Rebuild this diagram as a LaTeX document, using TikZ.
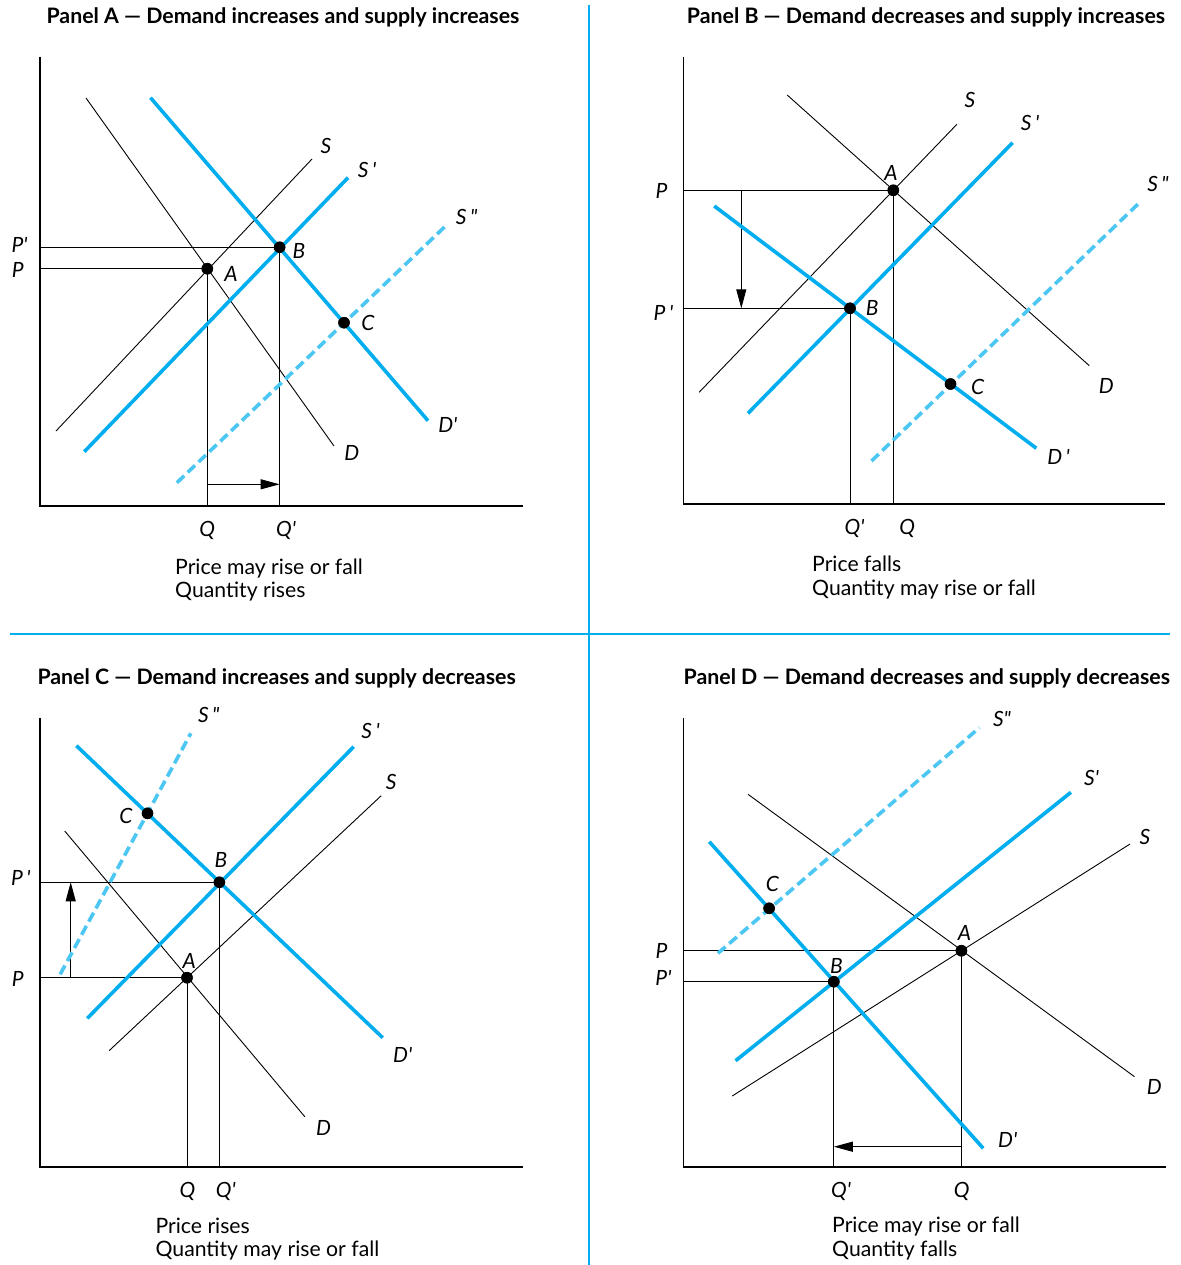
\documentclass[tikz,border=0pt]{standalone}
\usepackage{fontspec}
\setmainfont{Lato}
\usetikzlibrary{arrows.meta}
\definecolor{cblue}{HTML}{00AEEF}
\definecolor{clight}{HTML}{4CC6F2}
\begin{document}
\begin{tikzpicture}[x=1pt,y=-1pt,
  axisl/.style={black,line width=1.3pt},
  thinl/.style={black,line width=0.9pt},
  guide/.style={black,line width=1pt},
  bluel/.style={cblue,line width=3.6pt},
  dashl/.style={clight,line width=3.6pt,dash pattern=on 10pt off 5pt},
  divider/.style={cblue,line width=2pt},
  shiftarrow/.style={black,line width=1pt,-{Triangle[length=19pt,width=10pt]}},
  dot/.style={circle,fill=black,inner sep=0pt,minimum size=11.5pt},
  lab/.style={font=\itshape\fontsize{21}{21}\selectfont,inner sep=0pt},
  ttl/.style={font=\bfseries\fontsize{21.3}{21.3}\selectfont,inner sep=0pt,anchor=base},
  capt/.style={font=\fontsize{21.2}{21.2}\selectfont,inner sep=0pt,anchor=base west}
]
\useasboundingbox (0,0) rectangle (1180,1265);
\fill[white] (0,0) rectangle (1180,1265);

% dividers
\coordinate (v1) at (589,5); \coordinate (v2) at (589,1265);
\coordinate (h1) at (10,634); \coordinate (h2) at (1170,634);
\draw[divider] (v1) -- (v2);
\draw[divider] (h1) -- (h2);

% ================= Panel A =================
\node[ttl] (tA) at (283,24) {Panel A — Demand increases and supply increases};
\coordinate (aY) at (40,57); \coordinate (aO) at (40,506); \coordinate (aX) at (523,506);
\draw[axisl] (aY) -- (aO) -- (aX);
\coordinate (aD1) at (86,98);    \coordinate (aD2) at (334,446);
\coordinate (aS1) at (56,431);   \coordinate (aS2) at (312,159);
\coordinate (aDp1) at (150.5,97.7); \coordinate (aDp2) at (428,420.7);
\coordinate (aSp1) at (84.3,451.7); \coordinate (aSp2) at (348,177.7);
\coordinate (aSq1) at (176.9,482.7); \coordinate (aSq2) at (446.6,225);
\coordinate (aPA) at (40,268.7); \coordinate (aPB) at (40,247.3);
\coordinate (aQA) at (207.3,506); \coordinate (aQB) at (279.6,506);
\coordinate (aR1) at (207.3,484.3); \coordinate (aR2) at (279.6,484.3);
\draw[thinl] (aD1) -- (aD2);
\draw[thinl] (aS1) -- (aS2);
\node[dot] (aA) at (207.3,268.7) {};
\node[dot] (aB) at (279.6,247.3) {};
\node[dot] (aC) at (344,322.7) {};
\draw[guide] (aPA) -- (aA.center) -- (aQA);
\draw[guide] (aPB) -- (aB.center) -- (aQB);
\draw[shiftarrow] (aR1) -- (aR2);
\draw[bluel] (aDp1) -- (aDp2);
\draw[bluel] (aSp1) -- (aSp2);
\draw[dashl] (aSq1) -- (aSq2);
\node[dot] at (aA) {};
\node[dot] at (aB) {};
\node[dot] at (aC) {};
\node[lab] (aLS) at (326,145.7) {S};
\node[lab] (aLSp) at (367,170) {S\,\textquotesingle};
\node[lab] (aLSq) at (466.6,216.7) {S\,\textquotedbl};
\node[lab] (aLPp) at (19.6,245) {P\textquotesingle};
\node[lab] (aLP) at (17.7,270) {P};
\node[lab] (aLA) at (231,274) {A};
\node[lab] (aLB) at (299,250.7) {B};
\node[lab] (aLC) at (368,322.7) {C};
\node[lab] (aLDp) at (447.8,425) {D\textquotesingle};
\node[lab] (aLD) at (351.8,453) {D};
\node[lab] (aLQ) at (207.3,530) {Q};
\node[lab] (aLQp) at (286,530) {Q\textquotesingle};
\node[capt] (aC1) at (175,574) {Price may rise or fall};
\node[capt] (aC2) at (175,597) {Quantity rises};

% ================= Panel B =================
\node[ttl] (tB) at (926,24) {Panel B — Demand decreases and supply increases};
\coordinate (bY) at (683.3,57); \coordinate (bO) at (683.3,504); \coordinate (bX) at (1164.6,504);
\draw[axisl] (bY) -- (bO) -- (bX);
\coordinate (bD1) at (787.2,95);    \coordinate (bD2) at (1089.3,365.7);
\coordinate (bS1) at (699.1,392.3); \coordinate (bS2) at (956.9,124.3);
\coordinate (bSp1) at (748,413.3);  \coordinate (bSp2) at (1012.6,142.7);
\coordinate (bDp1) at (714.2,206);  \coordinate (bDp2) at (1036.3,448.3);
\coordinate (bSq1) at (871.5,461);  \coordinate (bSq2) at (1140.1,202);
\coordinate (bPA) at (683.3,190.3); \coordinate (bPB) at (683.3,308.3);
\coordinate (bQA) at (893.3,504);   \coordinate (bQB) at (850,504);
\coordinate (bR1) at (741.3,190.3); \coordinate (bR2) at (741.3,308.3);
\draw[thinl] (bD1) -- (bD2);
\draw[thinl] (bS1) -- (bS2);
\node[dot] (bA) at (893.3,190.3) {};
\node[dot] (bB) at (850,308.3) {};
\node[dot] (bC) at (950.5,384) {};
\draw[guide] (bPA) -- (bA.center) -- (bQA);
\draw[guide] (bPB) -- (bB.center) -- (bQB);
\draw[shiftarrow] (bR1) -- (bR2);
\draw[bluel] (bSp1) -- (bSp2);
\draw[bluel] (bDp1) -- (bDp2);
\draw[dashl] (bSq1) -- (bSq2);
\node[dot] at (bA) {};
\node[dot] at (bB) {};
\node[dot] at (bC) {};
\node[lab] (bLS) at (970,100) {S};
\node[lab] (bLSp) at (1030,122.7) {S\,\textquotesingle};
\node[lab] (bLSq) at (1158,184) {S\,\textquotedbl};
\node[lab] (bLA) at (891,173) {A};
\node[lab] (bLP) at (661.5,190.7) {P};
\node[lab] (bLPp) at (663.4,312.7) {P\,\textquotesingle};
\node[lab] (bLB) at (872.2,308.3) {B};
\node[lab] (bLC) at (977.6,387) {C};
\node[lab] (bLD) at (1106.3,386) {D};
\node[lab] (bLDp) at (1058.5,457.3) {D\,\textquotesingle};
\node[lab] (bLQp) at (854.5,528.3) {Q\textquotesingle};
\node[lab] (bLQ) at (907.2,528.3) {Q};
\node[capt] (bC1) at (812,571) {Price falls};
\node[capt] (bC2) at (812,595) {Quantity may rise or fall};

% ================= Panel C =================
\node[ttl] (tC) at (276.6,684) {Panel C — Demand increases and supply decreases};
\coordinate (cY) at (40,718.3); \coordinate (cO) at (40,1167); \coordinate (cX) at (523,1167);
\draw[axisl] (cY) -- (cO) -- (cX);
\coordinate (cD1) at (64.7,831);    \coordinate (cD2) at (304.8,1116.7);
\coordinate (cS1) at (109.1,1050.7); \coordinate (cS2) at (381.2,795.7);
\coordinate (cSp1) at (87.3,1018.3); \coordinate (cSp2) at (353.7,746.7);
\coordinate (cDp1) at (76.4,745.7);  \coordinate (cDp2) at (382.7,1037.7);
\coordinate (cSq1) at (60.2,974.3);  \coordinate (cSq2) at (190.8,733.3);
\coordinate (cPA) at (40,977.7); \coordinate (cPB) at (40,882.3);
\coordinate (cQA) at (187,1167); \coordinate (cQB) at (219.4,1167);
\coordinate (cR1) at (70.7,977.7); \coordinate (cR2) at (70.7,882.3);
\draw[thinl] (cD1) -- (cD2);
\draw[thinl] (cS1) -- (cS2);
\node[dot] (cA) at (187,977.7) {};
\node[dot] (cB) at (219.4,882.3) {};
\node[dot] (cC) at (147.5,813.3) {};
\draw[guide] (cPA) -- (cA.center) -- (cQA);
\draw[guide] (cPB) -- (cB.center) -- (cQB);
\draw[shiftarrow] (cR1) -- (cR2);
\draw[bluel] (cSp1) -- (cSp2);
\draw[bluel] (cDp1) -- (cDp2);
\draw[dashl] (cSq1) -- (cSq2);
\node[dot] at (cA) {};
\node[dot] at (cB) {};
\node[dot] at (cC) {};
\node[lab] (cLSq) at (208.8,715) {S\,\textquotedbl};
\node[lab] (cLSp) at (370.6,730.7) {S\,\textquotesingle};
\node[lab] (cLS) at (391.3,781.7) {S};
\node[lab] (cLC) at (126,815.7) {C};
\node[lab] (cLB) at (220.9,860) {B};
\node[lab] (cLPp) at (20.7,878.3) {P\,\textquotesingle};
\node[lab] (cLA) at (189.3,960.7) {A};
\node[lab] (cLP) at (17.7,979.3) {P};
\node[lab] (cLDp) at (402.6,1055) {D\textquotesingle};
\node[lab] (cLD) at (323.6,1128.3) {D};
\node[lab] (cLQ) at (187.4,1191.7) {Q};
\node[lab] (cLQp) at (225.8,1191.7) {Q\textquotesingle};
\node[capt] (cC1) at (155.4,1233.3) {Price rises};
\node[capt] (cC2) at (155.4,1256.7) {Quantity may rise or fall};

% ================= Panel D =================
\node[ttl] (tD) at (926.8,684) {Panel D — Demand decreases and supply decreases};
\coordinate (dY) at (683.3,718.3); \coordinate (dO) at (683.3,1167); \coordinate (dX) at (1165.7,1167);
\draw[axisl] (dY) -- (dO) -- (dX);
\coordinate (dD1) at (748,794.3);    \coordinate (dD2) at (1134.5,1076.7);
\coordinate (dS1) at (732.2,1096);   \coordinate (dS2) at (1130,844);
\coordinate (dSp1) at (735.6,1060.7); \coordinate (dSp2) at (1070.9,792.3);
\coordinate (dDp1) at (709.3,841.7); \coordinate (dDp2) at (983.2,1148.3);
\coordinate (dSq1) at (717.9,953.3); \coordinate (dSq2) at (979.4,727.7);
\coordinate (dPA) at (683.3,950.7); \coordinate (dPB) at (683.3,981.7);
\coordinate (dQA) at (961.4,1167);  \coordinate (dQB) at (833.8,1167);
\coordinate (dR1) at (961.4,1146.7); \coordinate (dR2) at (833.8,1146.7);
\draw[thinl] (dD1) -- (dD2);
\draw[thinl] (dS1) -- (dS2);
\node[dot] (dA) at (961.4,950.7) {};
\node[dot] (dB) at (833.8,981.7) {};
\node[dot] (dC) at (769.1,908.3) {};
\draw[guide] (dPA) -- (dA.center) -- (dQA);
\draw[guide] (dPB) -- (dB.center) -- (dQB);
\draw[shiftarrow] (dR1) -- (dR2);
\draw[bluel] (dSp1) -- (dSp2);
\draw[bluel] (dDp1) -- (dDp2);
\draw[dashl] (dSq1) -- (dSq2);
\node[dot] at (dA) {};
\node[dot] at (dB) {};
\node[dot] at (dC) {};
\node[lab] (dLSq) at (1002,719.3) {S\textquotedbl};
\node[lab] (dLSp) at (1091.6,778.3) {S\textquotesingle};
\node[lab] (dLS) at (1145,836.7) {S};
\node[lab] (dLC) at (772.5,884.3) {C};
\node[lab] (dLA) at (964.4,933.3) {A};
\node[lab] (dLP) at (661.5,950.7) {P};
\node[lab] (dLPp) at (663.4,978.3) {P\textquotesingle};
\node[lab] (dLB) at (836.5,966) {B};
\node[lab] (dLD) at (1154.4,1086.7) {D};
\node[lab] (dLDp) at (1007.7,1140) {D\textquotesingle};
\node[lab] (dLQp) at (841,1191.7) {Q\textquotesingle};
\node[lab] (dLQ) at (961.8,1191.7) {Q};
\node[capt] (dC1) at (832,1232.7) {Price may rise or fall};
\node[capt] (dC2) at (832,1256.7) {Quantity falls};
\end{tikzpicture}
\end{document}
